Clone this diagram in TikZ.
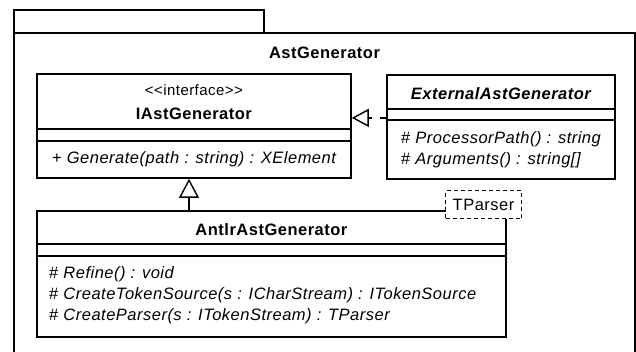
\documentclass[tikz,border=0pt]{standalone}
\usepackage{fontspec}
\setmainfont{Liberation Sans}[LetterSpace=3]
\usetikzlibrary{arrows.meta}
\begin{document}
\begin{tikzpicture}[x=1pt,y=-1pt,
  pkg/.style={draw=black, line width=1.8pt},
  cls/.style={draw=black, line width=1.8pt, fill=white, inner sep=0pt, anchor=north west},
  divider/.style={draw=black, line width=1.4pt},
  txt/.style={inner sep=0pt, anchor=base west, font=\fontsize{16.5}{19}\selectfont},
  ctxt/.style={inner sep=0pt, anchor=base, font=\fontsize{16.5}{19}\selectfont},
  stereo/.style={inner sep=0pt, anchor=base, font=\fontsize{15}{16}\selectfont},
  tparam/.style={draw=black, dash pattern=on 4pt off 3pt, line width=1.1pt, fill=white, inner sep=0pt, anchor=north west, font=\fontsize{16.5}{19}\selectfont},
  realize/.style={draw=black, line width=1.4pt, dash pattern=on 6pt off 8pt, -{Triangle[open, length=17pt, width=18pt, fill=white]}},
  generalize/.style={draw=black, line width=1.4pt, -{Triangle[open, length=19pt, width=20pt, fill=white]}}
]
\useasboundingbox (0,0) rectangle (636,351);
% package
\draw[pkg] (14,33) -- (14,10) -- (264,10) -- (264,33);
\draw[pkg] (14,352) -- (14,33) -- (634.6,33) -- (634.6,352);
\node[ctxt, font=\fontsize{16.5}{19}\selectfont\bfseries] (pkgname) at (324.5,58) {AstGenerator};

% IAstGenerator
\node[cls, minimum width=314pt, minimum height=104pt] (iast) at (36,73) {};
\draw[divider] (iast.west |- 0,129) -- (iast.east |- 0,129);
\draw[divider] (iast.west |- 0,141) -- (iast.east |- 0,141);
\node[stereo] (iastst) at (iast.center |- 0,95) {<{}<interface>{}>};
\node[ctxt, font=\fontsize{16.5}{19}\selectfont\bfseries] (iastname) at (iast.center |- 0,119) {IAstGenerator};
\node[txt] (iastop) at (52,163) {+ \textit{Generate(path : string) : XElement}};

% ExternalAstGenerator
\node[cls, minimum width=228pt, minimum height=104pt] (ext) at (386,74) {};
\draw[divider] (ext.west |- 0,109) -- (ext.east |- 0,109);
\draw[divider] (ext.west |- 0,120) -- (ext.east |- 0,120);
\node[ctxt, font=\fontsize{16.5}{19}\selectfont\bfseries\itshape] (extname) at (ext.center |- 0,99) {ExternalAstGenerator};
\node[txt] (extop1) at (401,143) {\# \textit{ProcessorPath() : string}};
\node[txt] (extop2) at (401,164) {\# \textit{Arguments() : string[]}};

% AntlrAstGenerator
\node[cls, minimum width=469pt, minimum height=126pt] (antlr) at (36,210) {};
\draw[divider] (antlr.west |- 0,244) -- (antlr.east |- 0,244);
\draw[divider] (antlr.west |- 0,256) -- (antlr.east |- 0,256);
\node[ctxt, font=\fontsize{16.5}{19}\selectfont\bfseries] (antlrname) at (antlr.center |- 0,235) {AntlrAstGenerator};
\node[txt] (antlrop1) at (49,278) {\# \textit{Refine() : void}};
\node[txt] (antlrop2) at (49,299) {\# \textit{CreateTokenSource(s : ICharStream) : ITokenSource}};
\node[txt] (antlrop3) at (49,320) {\# \textit{CreateParser(s : ITokenStream) : TParser}};
\node[tparam, minimum width=76pt, minimum height=28pt] (tp) at (445,190) {TParser};

% relations
\coordinate (gx) at (189,0);
\draw[realize] ([yshift=9pt]ext.west) -- ([yshift=9pt]ext.west -| iast.east);
\draw[generalize] (antlr.north -| gx) -- (iast.south -| gx);
\end{tikzpicture}
\end{document}
